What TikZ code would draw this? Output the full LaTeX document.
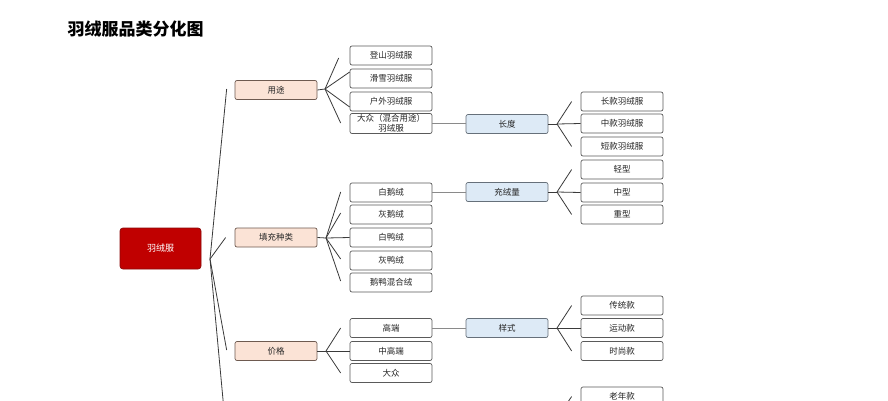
\documentclass[tikz,border=0pt]{standalone}
\usepackage{fontspec}
\setmainfont{Noto Sans CJK SC}
\usetikzlibrary{calc}
\definecolor{rootred}{HTML}{C00000}
\definecolor{rootedge}{HTML}{8B0A0A}
\definecolor{peach}{HTML}{FBE3D6}
\definecolor{peachedge}{HTML}{6E5A50}
\definecolor{paleblue}{HTML}{DDEAF6}
\definecolor{blueedge}{HTML}{66707A}
\definecolor{leafedge}{HTML}{5A5A5A}
\definecolor{fanline}{HTML}{3A3A3A}
\definecolor{linkline}{HTML}{8A8A8A}
\tikzset{
  boxbase/.style={rectangle, rounded corners=2pt, minimum width=82pt, minimum height=19pt, inner sep=0pt, line width=0.7pt, font=\fontsize{8.5}{9}\selectfont, text=black!85},
  leafbox/.style={boxbase, draw=leafedge, fill=white},
  catbox/.style={boxbase, draw=peachedge, fill=peach},
  subbox/.style={boxbase, draw=blueedge, fill=paleblue},
  rootbox/.style={rectangle, rounded corners=3pt, minimum width=81pt, minimum height=41pt, inner sep=0pt, draw=rootedge, fill=rootred, text=white, line width=0.7pt, font=\fontsize{9}{10}\selectfont},
  fan/.style={draw=fanline, line width=0.8pt},
  link/.style={draw=linkline, line width=0.8pt}
}
\begin{document}
\begin{tikzpicture}[x=1pt,y=-1pt]
\useasboundingbox[fill=white] (0,0) rectangle (888,400);
\begin{scope}
\clip (0,0) rectangle (888,400);
\node[anchor=west, font=\fontsize{17}{19}\selectfont\bfseries] (title) at (64,29) {羽绒服品类分化图};

% root and categories
\node[rootbox] (root) at (160.5,248.5) {羽绒服};
\node[catbox] (yt) at (276,90) {用途};
\node[catbox] (tc) at (276,237.5) {填充种类};
\node[catbox] (jg) at (276,351) {价格};

% leaves column A
\node[leafbox] (a1) at (391,55.5) {登山羽绒服};
\node[leafbox] (a2) at (391,78.5) {滑雪羽绒服};
\node[leafbox] (a3) at (391,101.5) {户外羽绒服};
\node[leafbox, minimum height=20pt, align=center, font=\fontsize{8.5}{9.6}\selectfont] (a4) at (391,123.5) {大众（混合用途）\\羽绒服};
\node[leafbox] (b1) at (391,192.5) {白鹅绒};
\node[leafbox] (b2) at (391,214.5) {灰鹅绒};
\node[leafbox] (b3) at (391,237.5) {白鸭绒};
\node[leafbox] (b4) at (391,260.5) {灰鸭绒};
\node[leafbox] (b5) at (391,282.5) {鹅鸭混合绒};
\node[leafbox] (c1) at (391,328) {高端};
\node[leafbox] (c2) at (391,351) {中高端};
\node[leafbox] (c3) at (391,373) {大众};

% sub categories
\node[subbox] (cd) at (507,124) {长度};
\node[subbox] (cr) at (507,192) {充绒量};
\node[subbox] (ys) at (507,328) {样式};

% leaves column B
\node[leafbox] (d1) at (622,101.5) {长款羽绒服};
\node[leafbox] (d2) at (622,123.5) {中款羽绒服};
\node[leafbox] (d3) at (622,146.5) {短款羽绒服};
\node[leafbox] (e1) at (622,169.5) {轻型};
\node[leafbox] (e2) at (622,192.5) {中型};
\node[leafbox] (e3) at (622,214.5) {重型};
\node[leafbox] (f1) at (622,305.5) {传统款};
\node[leafbox] (f2) at (622,328) {运动款};
\node[leafbox] (f3) at (622,351) {时尚款};
\node[leafbox] (g1) at (622,396.5) {老年款};

% root fan
\coordinate (ro) at (210,259);
\coordinate (offcat) at (226,432);
\draw[fan] (ro) -- ($(yt.west)+(-8,-1)$);
\draw[fan] (ro) -- ($(tc.west)+(-9,0)$);
\draw[fan] (ro) -- ($(jg.west)+(-8,-1)$);
\draw[fan] (ro) -- (offcat);

% 用途 fan
\coordinate (o1) at (325,89);
\draw[fan] (yt.east) -- (o1);
\draw[fan] (o1) -- ($(a1.west)+(-11,2.5)$);
\draw[fan] (o1) -- ($(a2.west)+(0,-6.5)$);
\draw[fan] (o1) -- ($(a3.west)+(0,5.5)$);
\draw[fan] (o1) -- ($(a4.west)+(-9,-0.5)$);

% 填充种类 fan
\coordinate (o2) at (326,238);
\draw[fan] (tc.east) -- (o2);
\draw[fan] (o2) -- ($(b1.west)+(-9,-0.5)$);
\draw[fan] (o2) -- ($(b2.west)+(-9,-1.5)$);
\draw[fan] (o2) -- (b3.west);
\draw[fan] (o2) -- ($(b4.west)+(-9,-1.5)$);
\draw[fan] (o2) -- ($(b5.west)+(-9,-1.5)$);

% 价格 fan
\coordinate (o3) at (326,351);
\draw[fan] (jg.east) -- (o3);
\draw[fan] (o3) -- ($(c1.west)+(-9,0)$);
\draw[fan] (o3) -- (c2.west);
\draw[fan] (o3) -- ($(c3.west)+(-9,0)$);

% links to sub categories
\draw[link] (a4.east) -- (a4.east -| cd.west);
\draw[link] (b1.east) -- (b1.east -| cr.west);
\draw[link] (c1.east) -- (ys.west);

% 长度 fan
\coordinate (o4) at (557,124);
\draw[fan] (cd.east) -- (o4);
\draw[fan] (o4) -- ($(d1.west)+(-9,0)$);
\draw[fan] (o4) -- (d2.west);
\draw[fan] (o4) -- ($(d3.west)+(-9,0)$);

% 充绒量 fan
\coordinate (o5) at (557,192);
\draw[fan] (cr.east) -- (o5);
\draw[fan] (o5) -- ($(e1.west)+(-9,0)$);
\draw[fan] (o5) -- (e2.west);
\draw[fan] (o5) -- ($(e3.west)+(-9,0)$);

% 样式 fan
\coordinate (o6) at (557,328);
\draw[fan] (ys.east) -- (o6);
\draw[fan] (o6) -- ($(f1.west)+(-9,0)$);
\draw[fan] (o6) -- (f2.west);
\draw[fan] (o6) -- ($(f3.west)+(-9,0)$);

% off-screen sub fan reaching 老年款
\coordinate (o7) at (557,418);
\draw[fan] (o7) -- ($(g1.west)+(-9,0)$);
\end{scope}
\end{tikzpicture}
\end{document}
